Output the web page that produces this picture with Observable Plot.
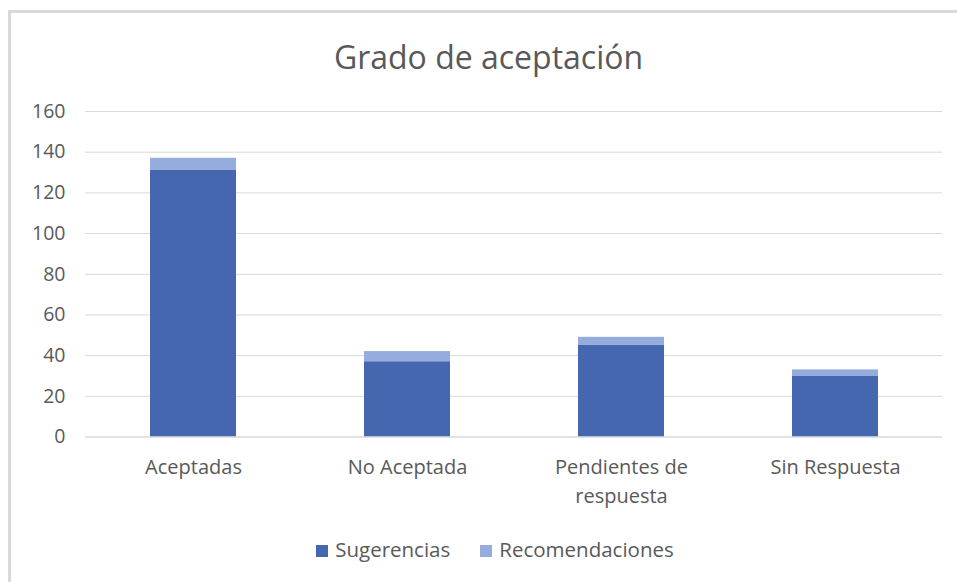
<!DOCTYPE html>
<html>
<head>
<meta charset="utf-8">
<script src="https://cdn.jsdelivr.net/npm/d3@7"></script>
<script src="https://cdn.jsdelivr.net/npm/@observablehq/plot@0.6"></script>
<style>
  html, body { margin: 0; padding: 0; background: #fff; }
  #wrap { position: relative; width: 957px; height: 582px; overflow: hidden; font-family: "Open Sans", "Noto Sans", sans-serif; }
  #frame { position: absolute; left: 8px; top: 10px; width: 1000px; height: 700px; border-left: 3px solid #d9d9d9; border-top: 3px solid #d9d9d9; box-sizing: border-box; }
  #title { position: absolute; left: 0; width: 977px; top: 35px; text-align: center; font-size: 32px; color: #595959; line-height: 44px; }
  #chart { position: absolute; left: 0; top: 90px; }
  #legend { position: absolute; left: 0; width: 990px; top: 535px; text-align: center; font-size: 20.5px; color: #595959; line-height: 28px; }
  .sw { display: inline-block; width: 12px; height: 12px; margin-right: 7px; vertical-align: 0px; }
  .item { margin: 0 15px; }
</style>
</head>
<body>
<div id="wrap">
  <div id="frame"></div>
  <div id="title">Grado de aceptación</div>
  <div id="chart"></div>
  <div id="legend"></div>
</div>
<script>
const categories = ["Aceptadas", "No Aceptada", "Pendientes de respuesta", "Sin Respuesta"];
const categoryLabels = ["Aceptadas", "No Aceptada", "Pendientes de\nrespuesta", "Sin Respuesta"];
const seriesNames = ["Sugerencias", "Recomendaciones"];
const sugerencias = [131, 37, 45, 30];
const recomendaciones = [6, 5, 4, 3];
const seriesColors = ["#4567B0", "#94ADDC"];
const yTicks = [0, 20, 40, 60, 80, 100, 120, 140, 160];

const data = [];
categories.forEach((c, i) => {
  data.push({cat: c, serie: seriesNames[0], value: sugerencias[i]});
  data.push({cat: c, serie: seriesNames[1], value: recomendaciones[i]});
});

const chart = Plot.plot({
  width: 957,
  height: 430,
  marginTop: 21,
  marginBottom: 83.5,
  marginLeft: 85,
  marginRight: 15,
  style: { fontFamily: "'Open Sans', 'Noto Sans', sans-serif", fontSize: "19.5px", color: "#595959", background: "transparent" },
  x: { domain: categories, paddingInner: 0.6, paddingOuter: 0.3, align: 0.5, label: null },
  y: { domain: [0, 160], label: null },
  color: { domain: seriesNames, range: seriesColors },
  marks: [
    Plot.gridY(yTicks, { stroke: "#d9d9d9", strokeOpacity: 1, strokeWidth: 1 }),
    Plot.barY(data, Plot.stackY({ x: "cat", y: "value", fill: "serie", order: seriesNames })),
    Plot.ruleY([0], { stroke: "#d9d9d9", strokeWidth: 1 }),
    Plot.axisY(yTicks, { tickSize: 0, tickPadding: 20, fill: "#595959", fontSize: 19.5, label: null }),
    Plot.axisX({ tickSize: 0, tickPadding: 16, fill: "#595959", fontSize: 20, label: null,
      tickFormat: d => categoryLabels[categories.indexOf(d)], lineHeight: 1.45 })
  ]
});
document.getElementById("chart").appendChild(chart);

const legend = document.getElementById("legend");
seriesNames.forEach((s, i) => {
  const span = document.createElement("span");
  span.className = "item";
  const sw = document.createElement("span");
  sw.className = "sw";
  sw.style.background = seriesColors[i];
  span.appendChild(sw);
  span.appendChild(document.createTextNode(s));
  legend.appendChild(span);
});
</script>
</body>
</html>
